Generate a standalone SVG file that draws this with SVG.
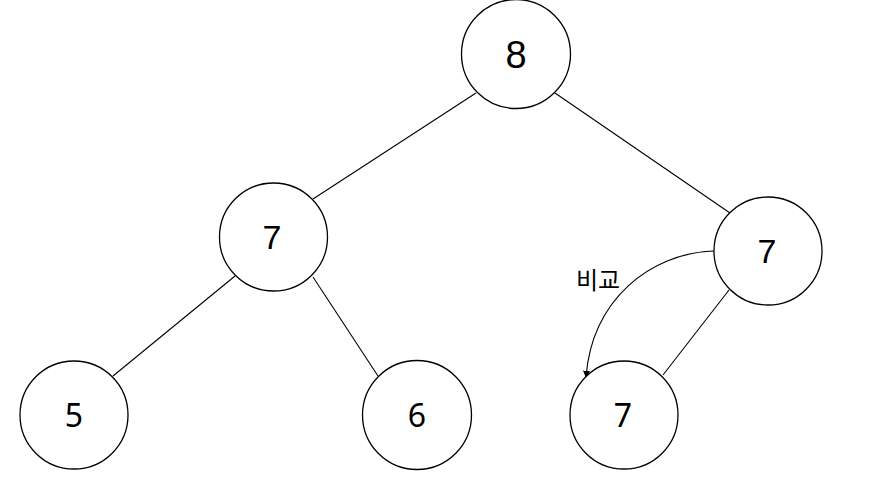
<svg xmlns="http://www.w3.org/2000/svg" width="871" height="491" viewBox="0 0 871 491">
<style>
.n{fill:#fff;stroke:#000;stroke-width:1.3}
.e{fill:none;stroke:#000;stroke-width:1.1}
.a{font-family:"Liberation Sans",Arial,sans-serif;text-anchor:middle;fill:#000}
.b{font-family:"Noto Sans","Open Sans",sans-serif;text-anchor:middle;fill:#000}
.k{font-family:"Noto Sans CJK KR",sans-serif;font-size:24px;text-anchor:middle;fill:#000}
</style>
<defs>
<marker id="arr" viewBox="0 0 10 10" refX="9" refY="5" markerWidth="7" markerHeight="7" orient="auto" markerUnits="userSpaceOnUse">
<path d="M0,0 L10,5 L0,10 Z" fill="#000"/>
</marker>
</defs>
<rect width="871" height="491" fill="#fff"/>
<g id="connectors">
<line class="e" x1="476" y1="93" x2="313" y2="199"/>
<line class="e" x1="555" y1="93" x2="730" y2="213"/>
<line class="e" x1="235" y1="276" x2="113" y2="376"/>
<line class="e" x1="313" y1="277" x2="378" y2="376"/>
<line class="e" x1="729" y1="290" x2="663" y2="375"/>
<path class="e" d="M714,251 C650,253 592,300 586,377" marker-end="url(#arr)"/>
<text class="k" x="598" y="289">비교</text>
</g>
<g id="n8"><circle class="n" cx="516" cy="54" r="54.5"/><text class="a" x="516" y="68" font-size="38">8</text></g>
<g id="n7a"><circle class="n" cx="273.5" cy="237" r="54"/><text class="a" x="272" y="249" font-size="34">7</text></g>
<g id="n7b"><circle class="n" cx="768" cy="251" r="54"/><text class="a" x="767" y="263" font-size="34">7</text></g>
<g id="n5"><circle class="n" cx="74" cy="415" r="54"/><text class="b" x="74" y="427" font-size="32">5</text></g>
<g id="n6"><circle class="n" cx="417" cy="415" r="54.5"/><text class="b" x="417" y="427" font-size="32">6</text></g>
<g id="n7c"><circle class="n" cx="624" cy="415" r="54"/><text class="b" x="623" y="427" font-size="32">7</text></g>
</svg>
